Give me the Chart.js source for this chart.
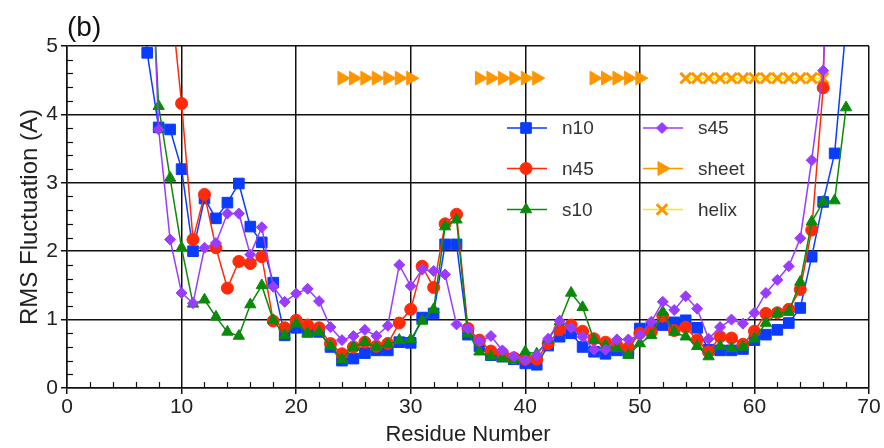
<!DOCTYPE html>
<html><head><meta charset="utf-8">
<script src="https://cdn.jsdelivr.net/npm/chart.js@4.4.1/dist/chart.umd.min.js"></script>
<style>html,body{margin:0;padding:0;background:#fff}#wrap{position:relative;width:884px;height:448px}</style>
</head><body><div id="wrap"><canvas id="c" width="884" height="448"></canvas></div>
<script>
// Residue numbers (x values)
const residues = [6,7,8,9,10,11,12,13,14,15,16,17,18,19,20,21,22,23,24,25,26,27,28,29,30,31,32,33,34,35,36,37,38,39,40,41,42,43,44,45,46,47,48,49,50,51,52,53,54,55,56,57,58,59,60,61,62,63,64,65,66,67,68];
// RMS fluctuation series (aligned with residues)
const n10 = [8.0,4.90,3.81,3.78,3.20,2.00,2.77,2.48,2.71,2.99,
  2.36,2.13,1.54,0.77,0.88,0.82,0.82,0.60,0.40,0.43,
  0.51,0.55,0.55,0.67,0.66,1.03,1.09,2.10,2.10,0.78,
  0.61,0.48,0.46,0.42,0.36,0.34,0.62,0.75,0.80,0.60,
  0.53,0.50,0.55,0.53,0.87,0.88,0.92,0.96,0.99,0.88,
  0.56,0.55,0.55,0.57,0.70,0.78,0.85,0.95,1.17,1.92,
  2.72,3.43,5.3];
const n45 = [null,9.0,7.5,5.8,4.16,2.17,2.83,2.05,1.46,1.85,
  1.82,1.92,0.98,0.88,0.99,0.92,0.88,0.65,0.50,0.60,
  0.67,0.61,0.65,0.95,1.15,1.78,1.47,2.40,2.54,0.87,
  0.70,0.54,0.51,0.44,0.42,0.42,0.65,0.85,0.92,0.83,
  0.72,0.67,0.62,0.59,0.80,0.82,1.05,0.84,0.89,0.70,
  0.53,0.75,0.73,0.64,0.83,1.09,1.10,1.15,1.44,2.31,
  4.39,12.0,null];
const s10 = [null,7.5,4.12,3.07,2.05,1.23,1.29,1.04,0.82,0.76,
  1.22,1.50,0.99,0.77,0.94,0.80,0.82,0.61,0.42,0.60,
  0.67,0.60,0.64,0.70,0.71,0.98,1.15,2.36,2.46,0.80,
  0.53,0.46,0.43,0.42,0.53,0.50,0.70,0.97,1.39,1.18,
  0.70,0.62,0.58,0.48,0.65,0.77,1.11,0.82,0.75,0.61,
  0.46,0.61,0.58,0.60,0.72,0.95,1.09,1.11,1.55,2.43,
  2.72,2.74,4.10];
const s45 = [null,8.0,3.78,2.17,1.39,1.24,2.05,2.12,2.55,2.55,
  1.95,2.35,1.48,1.26,1.38,1.45,1.27,0.89,0.70,0.76,
  0.85,0.76,0.91,1.80,1.49,1.73,1.71,1.66,0.93,0.87,
  0.68,0.76,0.55,0.46,0.41,0.48,0.72,0.98,0.88,0.75,
  0.56,0.56,0.71,0.71,0.77,0.97,1.26,1.14,1.34,1.16,
  0.72,0.89,1.00,0.94,1.10,1.39,1.58,1.78,2.19,3.33,
  4.64,8.0,null];
// Secondary structure markers (aligned with residues)
const sheet = [null,null,null,null,null,null,null,null,null,null,
  null,null,null,null,null,null,null,null,4.53,4.53,
  4.53,4.53,4.53,4.53,4.53,null,null,null,null,null,
  4.53,4.53,4.53,4.53,4.53,4.53,null,null,null,null,
  4.53,4.53,4.53,4.53,4.53,null,null,null,null,null,
  null,null,null,null,null,null,null,null,null,null,
  null,null,null];
const helix = [null,null,null,null,null,null,null,null,null,null,
  null,null,null,null,null,null,null,null,null,null,
  null,null,null,null,null,null,null,null,null,null,
  null,null,null,null,null,null,null,null,null,null,
  null,null,null,null,null,null,null,null,4.53,4.53,
  4.53,4.53,4.53,4.53,4.53,4.53,4.53,4.53,4.53,4.53,
  4.53,null,null];
const xTicks = [0,10,20,30,40,50,60,70];
const yTicks = [0,1,2,3,4,5];

const pts = arr => residues.map((r,i)=>({x:r,y:arr[i]}));
const FONT = "'Liberation Sans', Arial, Helvetica, sans-serif";

const C = {blue:'#0a3cff', red:'#ff2a0a', green:'#0a8a0a', purple:'#9a3cff', orange:'#ff9600', yellow:'#f5f000'};

function ds(label, arr, color, style, radius, extra){
  return Object.assign({label, data:pts(arr), borderColor:color, backgroundColor:color,
    pointBackgroundColor:color, pointBorderColor:color, pointStyle:style, pointRadius:radius,
    pointBorderWidth:1, borderWidth:1.5, spanGaps:false, tension:0}, extra||{});
}
// dataset index 0 is drawn on top
const datasets = [
  ds('s45', s45, C.purple, 'rectRot', 5.5),
  ds('s10', s10, C.green, 'triangle', 6.5),
  ds('n45', n45, C.red, 'circle', 6),
  ds('n10', n10, C.blue, 'rect', 7.5),
  ds('helix', helix, C.orange, 'crossRot', 7.5, {borderColor:C.yellow, pointBorderWidth:3}),
  ds('sheet', sheet, C.orange, 'triangle', 8, {pointRotation:90})
];

function drawMarker(ctx, style, x, y, r, fill, stroke, bw, rot){
  ctx.save();
  ctx.translate(x,y); ctx.rotate((rot||0)*Math.PI/180);
  ctx.fillStyle=fill; ctx.strokeStyle=stroke; ctx.lineWidth=bw||1;
  ctx.beginPath();
  if(style==='rect'){const s=r*Math.SQRT1_2; ctx.rect(-s,-s,2*s,2*s); ctx.fill(); ctx.stroke();}
  else if(style==='circle'){ctx.arc(0,0,r,0,Math.PI*2); ctx.fill(); ctx.stroke();}
  else if(style==='triangle'){for(let k=0;k<3;k++){const a=k*2*Math.PI/3; const px=Math.sin(a)*r, py=-Math.cos(a)*r; k?ctx.lineTo(px,py):ctx.moveTo(px,py);} ctx.closePath(); ctx.fill(); ctx.stroke();}
  else if(style==='rectRot'){ctx.moveTo(0,-r);ctx.lineTo(r,0);ctx.lineTo(0,r);ctx.lineTo(-r,0);ctx.closePath();ctx.fill();ctx.stroke();}
  else if(style==='crossRot'){const s=r*Math.SQRT1_2; ctx.moveTo(-s,-s);ctx.lineTo(s,s);ctx.moveTo(s,-s);ctx.lineTo(-s,s);ctx.stroke();}
  ctx.restore();
}

const legendLayout = [
  {label:'n10', col:0,row:0},{label:'n45',col:0,row:1},{label:'s10',col:0,row:2},
  {label:'s45', col:1,row:0},{label:'sheet',col:1,row:1},{label:'helix',col:1,row:2}
];

const deco = {
  id:'deco',
  afterDraw(chart){
    const {ctx, chartArea:a, scales:{x,y}} = chart;
    ctx.save();
    ctx.strokeStyle='#111'; ctx.lineWidth=1.2;
    for(let v=2; v<70; v+=2){ if(v%10===0) continue;
      const px=Math.round(x.getPixelForValue(v))+0.5;
      ctx.beginPath(); ctx.moveTo(px,a.bottom); ctx.lineTo(px,a.bottom-6); ctx.stroke(); }
    for(let i=1;i<25;i++){ if(i%5===0) continue;
      const py=Math.round(y.getPixelForValue(i*0.2))+0.5;
      ctx.beginPath(); ctx.moveTo(a.left,py); ctx.lineTo(a.left+6,py); ctx.stroke(); }
    // panel label
    ctx.fillStyle='#111'; ctx.font='28px '+FONT; ctx.textBaseline='alphabetic'; ctx.textAlign='left';
    ctx.fillText('(b)', 67, 36);
    // legend
    const colX=[507,643], rowY=[128,168.5,209.5];
    ctx.font='19px '+FONT; ctx.textBaseline='middle';
    legendLayout.forEach(e=>{
      const d = chart.data.datasets.find(q=>q.label===e.label);
      const x0=colX[e.col], yy=rowY[e.row];
      ctx.strokeStyle=d.borderColor; ctx.lineWidth=1.5;
      ctx.beginPath(); ctx.moveTo(x0,yy); ctx.lineTo(x0+40,yy); ctx.stroke();
      drawMarker(ctx, d.pointStyle, x0+19, yy, d.pointRadius, d.pointBackgroundColor, d.pointBorderColor, d.pointBorderWidth, d.pointRotation||0);
      ctx.fillStyle='#333'; ctx.fillText(e.label, x0+55, yy+1);
    });
    ctx.restore();
  }
};

new Chart(document.getElementById('c'), {
  type:'line',
  data:{datasets},
  options:{
    responsive:false, animation:false, devicePixelRatio:1,
    layout:{padding:{top:46,right:15,left:0,bottom:0}},
    plugins:{legend:{display:false}, tooltip:{enabled:false}, title:{display:false}},
    scales:{
      x:{type:'linear', min:0, max:70,
        afterFit(s){s.height=60;},
        afterBuildTicks(s){s.ticks=xTicks.map(v=>({value:v}));},
        ticks:{color:'#222', font:{family:FONT,size:21}, padding:1, maxRotation:0},
        grid:{color:'#111', lineWidth:1.5, drawTicks:true, tickLength:6, tickColor:'#111'},
        border:{display:true, color:'#111', width:1.5},
        title:{display:true, text:'Residue Number', color:'#222', font:{family:FONT,size:22}, padding:{top:0,bottom:0}}
      },
      y:{min:0, max:5,
        afterFit(s){s.width=67;},
        afterBuildTicks(s){s.ticks=yTicks.map(v=>({value:v}));},
        ticks:{color:'#222', font:{family:FONT,size:21}, padding:3},
        grid:{color:'#111', lineWidth:1.5, drawTicks:true, tickLength:6, tickColor:'#111'},
        border:{display:true, color:'#111', width:1.5},
        title:{display:true, text:'RMS Fluctuation (A)', color:'#222', font:{family:FONT,size:24}, padding:{top:16,bottom:0}}
      }
    }
  },
  plugins:[deco]
});
</script>
</body></html>
